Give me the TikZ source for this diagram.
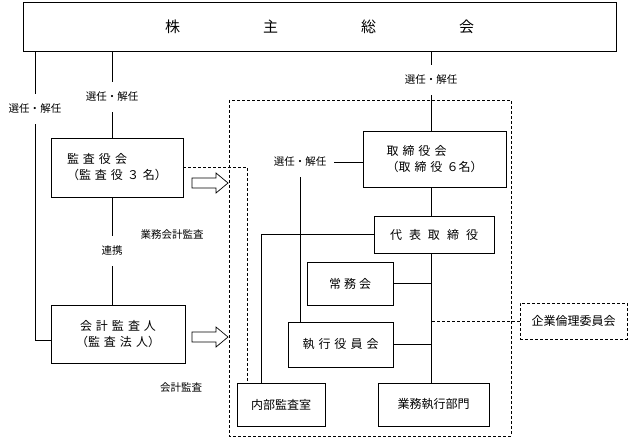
\documentclass[tikz,border=0pt]{standalone}
\usepackage{fontspec}
\newfontfamily\jp{Noto Sans CJK JP}
\usetikzlibrary{positioning}

\begin{document}
\begin{tikzpicture}[
        x=1pt, y=-1pt,
        organ/.style={
            draw,
            line width=0.7pt,
            inner sep=0pt,
            align=center,
            font={\jp\fontsize{12}{16}\selectfont\spaceskip=#1\relax}
        },
        organ/.default=4pt,
        note/.style={
            inner xsep=8pt,
            inner ysep=0pt,
            minimum height=30pt,
            font=\jp\fontsize{10.5}{12}\selectfont
        },
        link/.style={line width=0.7pt},
        faint/.style={line width=0.7pt, dash pattern=on 3pt off 2pt}
    ]
    \useasboundingbox (0,0) rectangle (628,438);

    % Nodes
    \node[organ, minimum width=593pt, minimum height=49pt,
          font={\jp\fontsize{15}{18}\selectfont\spaceskip=83pt\relax}] (top) at (319.5,26.5) {株 主 総 会};
    \node[organ, minimum width=132pt, minimum height=59pt, align=left] (kansa) at (117,167.5) {監 査 役 会\\（監 査 役 ３ 名）};
    \node[organ, minimum width=134pt, minimum height=58pt] (kaikei) at (118,334) {会 計 監 査 人\\（監 査 法 人）};
    \node[organ, minimum width=143pt, minimum height=56pt, align=left] (torishimari) at (434.5,159) {取 締 役 会\\（取 締 役 ６名）};
    \node[organ=7pt, minimum width=120pt, minimum height=37pt] (daihyo) at (434,234.5) {代 表 取 締 役};
    \node[organ=3pt, minimum width=86pt, minimum height=43pt] (jomu) at (350,283.5) {常 務 会};
    \node[organ, minimum width=105pt, minimum height=45pt] (shikko) at (340.5,344.5) {執 行 役 員 会};
    \node[organ=0pt, minimum width=88pt, minimum height=43pt] (naibu) at (281,404.5) {内部監査室};
    \node[organ=0pt, minimum width=111pt, minimum height=43pt] (gyomu) at (433.5,404.5) {業務執行部門};
    \node[organ=0pt, minimum width=107pt, minimum height=36pt, dash pattern=on 3pt off 2pt] (rinri) at (573.5,321) {企業倫理委員会};

    % Labels
    \node[note] (lbl1) at (35,109) {選任・解任};
    \node[note] (lbl2) at (112,97) {選任・解任};
    \node[note] (lbl3) at (431,80) {選任・解任};
    \node[note] (lbl4) at (300,162) {選任・解任};
    \node[note] (ren) at (112,251) {連携};
    \node[note] (gyokan) at (172,235) {業務会計監査};
    \node[note] (kaikan) at (181,388) {会計監査};

    % Frame of the executive side
    \draw[faint] (229,100) rectangle (511,436);

    % Block arrows
    \draw[link] (192,178) -- ++(24,0) -- ++(0,-5) -- ++(12,10) -- ++(-12,10) -- ++(0,-5) -- ++(-24,0) -- cycle;
    \draw[link] (192,332) -- ++(24,0) -- ++(0,-5) -- ++(12,10) -- ++(-12,10) -- ++(0,-5) -- ++(-24,0) -- cycle;

    % Lines from the general meeting
    \draw[link] (lbl1 |- top.south) -- (lbl1.north);
    \draw[link] (lbl1.south) |- ([yshift=-6pt]kaikei.west);
    \draw[link] (lbl2 |- top.south) -- (lbl2.north);
    \draw[link] (lbl2.south) -- (lbl2 |- kansa.north);
    \draw[link] (lbl2 |- kansa.south) -- (ren.north);
    \draw[link] (ren.south) -- (ren |- kaikei.north);
    \draw[link] (lbl3 |- top.south) -- (lbl3.north);
    \draw[link] (lbl3.south) -- (lbl3 |- torishimari.north);

    % Executive lines
    \draw[link] (lbl3 |- torishimari.south) -- (lbl3 |- daihyo.north);
    \draw[link] (lbl3 |- daihyo.south) -- (lbl3 |- gyomu.north);
    \draw[link] (jomu.east) -- (jomu.east -| lbl3);
    \draw[link] (shikko.east) -- (shikko.east -| lbl3);
    \draw[link] (lbl4.east) -- (lbl4.east -| torishimari.west);
    \draw[link] (lbl4.south) -- (lbl4.south |- shikko.north);
    \draw[link] (daihyo.west) -| ([xshift=25pt]naibu.north west);

    % Dashed links
    \draw[faint] (kansa.east) -| ([xshift=11pt]naibu.north west);
    \draw[faint] (rinri.west) -- (rinri.west -| lbl3);

    \end{tikzpicture}
\end{document}
